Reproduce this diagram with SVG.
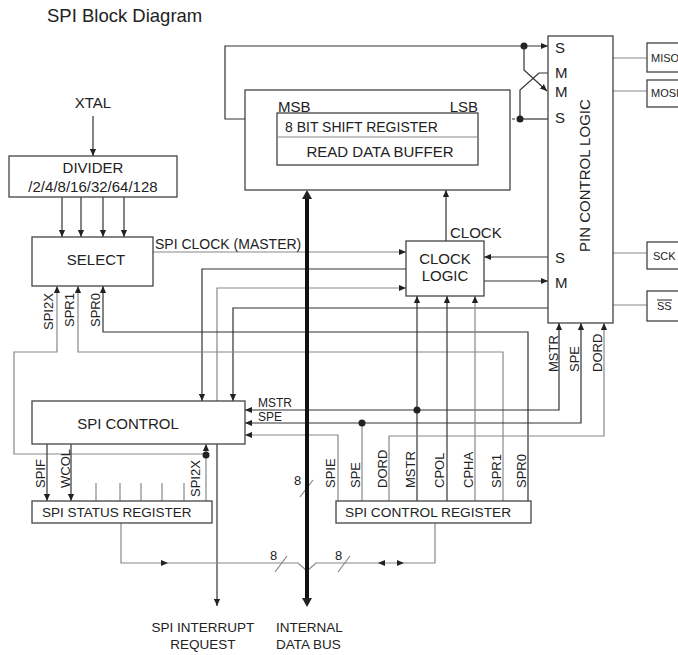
<svg xmlns="http://www.w3.org/2000/svg" width="678" height="655" viewBox="0 0 678 655">
<style>
.box{fill:#fff;stroke:#444;stroke-width:1.3}
.ln{fill:none;stroke:#333;stroke-width:1.2}
.lg{fill:none;stroke:#888;stroke-width:1.2}
.dash{fill:none;stroke:#333;stroke-width:1.2;stroke-dasharray:3,2}
text{font-family:"Liberation Sans",Arial,sans-serif;fill:#222}
.t15{font-size:15px}
.t14{font-size:14px}
.t13{font-size:13px}
.t12{font-size:12px}
.t11{font-size:11px}
.mid{text-anchor:middle}
.end{text-anchor:end}
.dot{fill:#222}
.ah{fill:#222}
</style>
<defs>
<marker id="a" viewBox="0 0 8 8" refX="8" refY="4" markerWidth="7" markerHeight="7" markerUnits="userSpaceOnUse" orient="auto"><path d="M0,0.5 L8,4 L0,7.5 z" fill="#222"/></marker>
</defs>
<rect width="678" height="655" fill="#fff"/>
<text id="title" x="47" y="22" style="font-size:18.5px" fill="#333">SPI Block Diagram</text>

<g id="connectors">
  <line class="ln" x1="93" y1="116" x2="93" y2="156" marker-end="url(#a)"/>
  <line class="ln" x1="62" y1="197" x2="62" y2="237" marker-end="url(#a)"/>
  <line class="ln" x1="81" y1="197" x2="81" y2="237" marker-end="url(#a)"/>
  <line class="ln" x1="103" y1="197" x2="103" y2="237" marker-end="url(#a)"/>
  <line class="ln" x1="124" y1="197" x2="124" y2="237" marker-end="url(#a)"/>
  <line class="lg" x1="153" y1="252" x2="406" y2="252" marker-end="url(#a)"/>
  <polyline class="ln" points="406,269 202,269 202,401" marker-end="url(#a)"/>
  <polyline class="lg" points="217,401 217,288 406,288" marker-end="url(#a)"/>
  <polyline class="ln" points="548,308 233,308 233,401" marker-end="url(#a)"/>
  <polyline class="ln" points="528,501 528,332 103,332 103,286" marker-end="url(#a)"/>
  <polyline class="lg" points="503,501 503,352 78,352 78,286" marker-end="url(#a)"/>
  <line class="lg" x1="206" y1="501" x2="206" y2="444" marker-end="url(#a)"/>
  <polyline class="lg" points="206,454 14,454 14,352 57,352 57,286" marker-end="url(#a)"/>
  <circle class="dot" cx="206" cy="455" r="3.5"/>
  <line class="ln" x1="47" y1="444" x2="47" y2="501" marker-end="url(#a)"/>
  <line class="ln" x1="71" y1="444" x2="71" y2="501" marker-end="url(#a)"/>
  <line class="lg" x1="96" y1="483" x2="96" y2="501"/>
  <line class="lg" x1="120" y1="483" x2="120" y2="501"/>
  <line class="lg" x1="141" y1="483" x2="141" y2="501"/>
  <line class="lg" x1="162" y1="483" x2="162" y2="501"/>
  <line class="lg" x1="184" y1="483" x2="184" y2="501"/>
  <line class="ln" x1="217" y1="444" x2="217" y2="606" marker-end="url(#a)"/>
  <line class="ln" x1="417" y1="410" x2="245" y2="410" marker-end="url(#a)"/>
  <polyline class="ln" points="417,410 559,410 559,323" marker-end="url(#a)"/>
  <line class="ln" x1="417" y1="501" x2="417" y2="296" marker-end="url(#a)"/>
  <circle class="dot" cx="417" cy="410" r="3.5"/>
  <line class="lg" x1="362" y1="501" x2="362" y2="423"/>
  <line class="ln" x1="362" y1="423" x2="245" y2="423" marker-end="url(#a)"/>
  <polyline class="ln" points="362,423 581,423 581,323" marker-end="url(#a)"/>
  <circle class="dot" cx="362" cy="423" r="3.5"/>
  <polyline class="lg" points="338,501 338,435 245,435" marker-end="url(#a)"/>
  <polyline class="lg" points="389,501 389,436 604,436 604,323" marker-end="url(#a)"/>
  <line class="ln" x1="447" y1="501" x2="447" y2="296" marker-end="url(#a)"/>
  <line class="lg" x1="475" y1="501" x2="475" y2="296" marker-end="url(#a)"/>
  <line class="ln" x1="446" y1="241" x2="446" y2="190" marker-end="url(#a)"/>
  <line class="ln" x1="548" y1="257" x2="484" y2="257" marker-end="url(#a)"/>
  <line class="ln" x1="484" y1="281" x2="548" y2="281" marker-end="url(#a)"/>
  <line class="lg" x1="613" y1="58" x2="647" y2="58"/>
  <line class="lg" x1="613" y1="91" x2="647" y2="91"/>
  <line class="lg" x1="613" y1="253" x2="647" y2="253"/>
  <line class="lg" x1="613" y1="305" x2="647" y2="305"/>
  <line class="dash" x1="277" y1="119" x2="247" y2="119" marker-end="url(#a)"/>
  <polyline class="ln" points="246,119 225,119 225,46 548,46" marker-end="url(#a)"/>
  <circle class="dot" cx="524" cy="46" r="3.5"/>
  <polyline class="ln" points="524,46 524,70 547,91" marker-end="url(#a)"/>
  <polyline class="ln" points="548,73 539,73 520,90 520,119"/>
  <line class="ln" x1="548" y1="119" x2="520" y2="119"/>
  <line class="dash" x1="520" y1="119" x2="479" y2="119" marker-end="url(#a)"/>
  <circle class="dot" cx="520" cy="119" r="3.5"/>
  <polyline class="lg" points="121,523 121,563 298,563 307,571 316,563 435,563 435,523"/>
  <polygon class="ah" points="168,563 161,560 161,566"/>
  <polygon class="ah" points="378,563 385,560 385,566"/>
  <polygon class="ah" points="404,563 397,560 397,566"/>
  <line class="lg" x1="275" y1="572" x2="287" y2="556"/>
  <line class="lg" x1="338" y1="572" x2="350" y2="556"/>
  <line class="lg" x1="300" y1="497" x2="313" y2="480"/>
  <line x1="307" y1="196" x2="307" y2="600" stroke="#111" stroke-width="4"/>
  <polygon class="ah" points="307,190 302,199 312,199"/>
  <polygon class="ah" points="307,607 302,598 312,598"/>
</g>

<g id="xtal"><text class="t15 mid" x="93" y="108">XTAL</text></g>
<g id="divider">
  <rect class="box" x="9" y="156" width="168" height="41"/>
  <text class="t15 mid" x="93" y="173">DIVIDER</text>
  <text class="t15 mid" x="93" y="192">/2/4/8/16/32/64/128</text>
</g>
<g id="select">
  <rect class="box" x="32" y="237" width="121" height="49"/>
  <text class="t15 mid" x="96" y="265">SELECT</text>
  <text class="t14" x="155" y="249">SPI CLOCK (MASTER)</text>
  <text class="t13" transform="translate(53,330) rotate(-90)">SPI2X</text>
  <text class="t13" transform="translate(74,327) rotate(-90)">SPR1</text>
  <text class="t13" transform="translate(100,327) rotate(-90)">SPR0</text>
</g>
<g id="shift-register">
  <rect class="box" x="245" y="90" width="265" height="100"/>
  <rect class="box" x="277" y="113" width="201" height="52"/>
  <line x1="277" y1="137" x2="478" y2="137" stroke="#888" stroke-width="1.2"/>
  <text class="t15" x="278" y="112">MSB</text>
  <text class="t15 end" x="478" y="112">LSB</text>
  <text class="t14" x="285" y="132">8 BIT SHIFT REGISTER</text>
  <text class="t15 mid" x="380" y="157">READ DATA BUFFER</text>
</g>
<g id="clock-logic">
  <rect class="box" x="406" y="241" width="78" height="55"/>
  <text class="t15 mid" x="445" y="264">CLOCK</text>
  <text class="t15 mid" x="445" y="281">LOGIC</text>
  <text class="t15" x="450" y="238">CLOCK</text>
</g>
<g id="pin-control-logic">
  <rect class="box" x="548" y="36" width="65" height="287"/>
  <text class="t15" x="555" y="53">S</text>
  <text class="t15" x="555" y="78">M</text>
  <text class="t15" x="555" y="97">M</text>
  <text class="t15" x="555" y="123">S</text>
  <text class="t15" x="555" y="263">S</text>
  <text class="t15" x="555" y="288">M</text>
  <text class="t15" transform="translate(590,252) rotate(-90)">PIN CONTROL LOGIC</text>
  <text class="t13" transform="translate(558,372) rotate(-90)">MSTR</text>
  <text class="t13" transform="translate(579,372) rotate(-90)">SPE</text>
  <text class="t13" transform="translate(602,372) rotate(-90)">DORD</text>
</g>
<g id="miso"><rect class="box" x="647" y="43" width="40" height="29"/><text class="t11" x="651" y="62">MISO</text></g>
<g id="mosi"><rect class="box" x="647" y="80" width="40" height="27"/><text class="t11" x="651" y="97">MOSI</text></g>
<g id="sck"><rect class="box" x="647" y="242" width="40" height="27"/><text class="t11" x="653" y="260">SCK</text></g>
<g id="ss"><rect class="box" x="647" y="291" width="40" height="30"/><text class="t11" x="657" y="310">SS</text><line x1="657" y1="300" x2="672" y2="300" stroke="#222" stroke-width="1"/></g>
<g id="spi-control">
  <rect class="box" x="32" y="401" width="213" height="43"/>
  <text class="t15 mid" x="128" y="429">SPI CONTROL</text>
  <text class="t12" x="258" y="407">MSTR</text>
  <text class="t12" x="258" y="421">SPE</text>
</g>
<g id="spi-status-register">
  <rect class="box" x="32" y="501" width="180" height="22"/>
  <text style="font-size:13.5px" x="42" y="517">SPI STATUS REGISTER</text>
  <text class="t13" transform="translate(45,488) rotate(-90)">SPIF</text>
  <text class="t13" transform="translate(70,488) rotate(-90)">WCOL</text>
  <text class="t13" transform="translate(200,497) rotate(-90)">SPI2X</text>
</g>
<g id="spi-control-register">
  <rect class="box" x="336" y="501" width="195" height="22"/>
  <text style="font-size:13.7px" x="345" y="517">SPI CONTROL REGISTER</text>
  <text class="t13" transform="translate(335,488) rotate(-90)">SPIE</text>
  <text class="t13" transform="translate(360,488) rotate(-90)">SPE</text>
  <text class="t13" transform="translate(387,488) rotate(-90)">DORD</text>
  <text class="t13" transform="translate(415,488) rotate(-90)">MSTR</text>
  <text class="t13" transform="translate(444,488) rotate(-90)">CPOL</text>
  <text class="t13" transform="translate(473,488) rotate(-90)">CPHA</text>
  <text class="t13" transform="translate(501,488) rotate(-90)">SPR1</text>
  <text class="t13" transform="translate(526,488) rotate(-90)">SPR0</text>
</g>
<g id="bus-labels">
  <text class="t13" x="294" y="485">8</text>
  <text class="t13" x="270" y="560">8</text>
  <text class="t13" x="335" y="560">8</text>
</g>
<g id="spi-interrupt-request">
  <text style="font-size:13.5px" class="mid" x="203" y="632">SPI INTERRUPT</text>
  <text style="font-size:13.5px" class="mid" x="203" y="649">REQUEST</text>
</g>
<g id="internal-data-bus">
  <text style="font-size:13.5px" x="276" y="632">INTERNAL</text>
  <text style="font-size:13.5px" x="276" y="649">DATA BUS</text>
</g>
</svg>
